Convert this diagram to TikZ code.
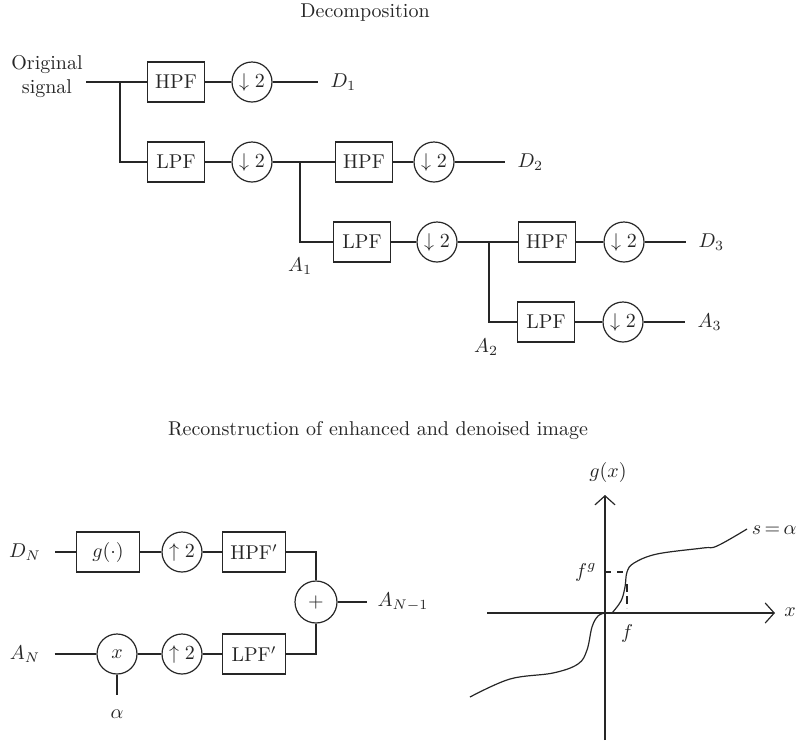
\documentclass[tikz,border=0pt]{standalone}
\usepackage{amsmath,amssymb}
\usepackage{xcolor}
\usepackage{tikz}
\usetikzlibrary{positioning, arrows.meta, calc}

\begin{document}
\begin{tikzpicture}[
    x=0.5pt, y=-0.5pt,
    line width=0.6pt, draw=black!85, text=black!85,
    filt/.style={draw=black!85, line width=0.6pt, minimum width=28.5pt,
                 minimum height=20pt, inner sep=1pt},
    filtr/.style={filt, minimum width=31.5pt},
    samp/.style={draw=black!85, circle, line width=0.6pt,
                 minimum size=20pt, inner sep=0pt},
    lbl/.style={inner sep=1pt},
    wire/.style={line width=0.6pt},
    axis/.style={-{Straight Barb[length=4.5pt, width=10pt]}, line width=0.6pt},
    curve/.style={line width=0.6pt, smooth, tension=0.6},
]

\useasboundingbox (0,0) rectangle (798,740);

% Decomposition
\node[lbl] (title1) at (365,13) {Decomposition};
\node[lbl, align=center] (sig) at (47,77) {Original\\signal};
\coordinate (sigend) at (86,82);
\coordinate (br0) at (120,82);

% level 1
\node[filt] (hpf1) at (176,82) {HPF};
\node[samp] (ds1) at (252,82) {$\downarrow 2$};
\coordinate (d1end) at (318,82);
\node[lbl, right=5pt of d1end] (d1) {$D_1$};
\node[filt] (lpf1) at (176,162) {LPF};
\node[samp] (ds2) at (252,162) {$\downarrow 2$};
\coordinate (br1) at (300,162);

\draw[wire] (sigend) -- (hpf1);
\draw[wire] (hpf1) -- (ds1);
\draw[wire] (ds1) -- (d1end);
\draw[wire] (br0) |- (lpf1);
\draw[wire] (lpf1) -- (ds2);

% level 2
\node[filt] (hpf2) at (364,162) {HPF};
\node[samp] (ds3) at (434,162) {$\downarrow 2$};
\coordinate (d2end) at (505,162);
\node[lbl, right=5pt of d2end] (d2) {$D_2$};
\node[filt] (lpf2) at (362,242) {LPF};
\node[samp] (ds4) at (437,242) {$\downarrow 2$};
\coordinate (br2) at (489,242);
\node[lbl] (a1) at (300,266) {$A_1$};

\draw[wire] (ds2) -- (hpf2);
\draw[wire] (hpf2) -- (ds3);
\draw[wire] (ds3) -- (d2end);
\draw[wire] (br1) |- (lpf2);
\draw[wire] (lpf2) -- (ds4);

% level 3
\node[filt] (hpf3) at (547,242) {HPF};
\node[samp] (ds5) at (624,242) {$\downarrow 2$};
\coordinate (d3end) at (686,242);
\node[lbl, right=5pt of d3end] (d3) {$D_3$};
\node[filt] (lpf3) at (546,322) {LPF};
\node[samp] (ds6) at (623,322) {$\downarrow 2$};
\coordinate (a3end) at (685,322);
\node[lbl, right=5pt of a3end] (a3) {$A_3$};
\node[lbl] (a2) at (486,347) {$A_2$};

\draw[wire] (ds4) -- (hpf3);
\draw[wire] (hpf3) -- (ds5);
\draw[wire] (ds5) -- (d3end);
\draw[wire] (br2) |- (lpf3);
\draw[wire] (lpf3) -- (ds6);
\draw[wire] (ds6) -- (a3end);

% Reconstruction
\node[lbl] (title2) at (378,431) {Reconstruction of enhanced and denoised image};

\node[lbl] (dn) at (25,552) {$D_N$};
\node[filtr] (gbox) at (108,552) {$g(\cdot)$};
\node[samp] (us1) at (182,552) {$\uparrow 2$};
\node[filtr] (hpfp) at (254,552) {HPF$'$};
\coordinate (cnr1) at (316,552);

\node[lbl] (an) at (25,654) {$A_N$};
\node[samp] (mult) at (117,654) {$x$};
\node[samp] (us2) at (182,654) {$\uparrow 2$};
\node[filtr] (lpfp) at (254,654) {LPF$'$};
\coordinate (cnr2) at (316,654);

\node[samp, minimum size=21pt] (plus) at (316,602) {$+$};
\coordinate (outend) at (367,602);
\node[lbl, right=4pt of outend] (anm1) {$A_{N-1}$};
\coordinate (alphaend) at (117,695);
\node[lbl] (alpha) at (117,714) {$\alpha$};

\draw[wire] (dn.east) ++(6pt,0) coordinate (dnstart) -- (gbox);
\draw[wire] (gbox) -- (us1);
\draw[wire] (us1) -- (hpfp);
\draw[wire] (hpfp) -- (cnr1) -- (plus);
\draw[wire] (an.east) ++(6pt,0) coordinate (anstart) -- (mult);
\draw[wire] (mult) -- (us2);
\draw[wire] (us2) -- (lpfp);
\draw[wire] (lpfp) -- (cnr2) -- (plus);
\draw[wire] (plus) -- (outend);
\draw[wire] (mult) -- (alphaend);

% Mapping curve g(x)
\coordinate (O) at (605,613);
\coordinate (xl) at (487,613);
\coordinate (xr) at (775,613);
\coordinate (yb) at (605,740);
\coordinate (yt) at (605,495);
\draw[axis] (xl) -- (xr);
\draw[axis] (yb) -- (yt);
\node[lbl] (xlbl) at (790,612) {$x$};
\node[lbl] (glbl) at (608,472) {$g(x)$};

\draw[curve] plot coordinates {(470,697) (510,679) (553,673) (578,664)
  (587,650) (592,627) (598,616) (605,613)};
\draw[curve] plot coordinates {(612,613) (621,601) (625,587) (627,572)
  (634,563) (657,554) (703,548) (717,546) (747,529)};

\coordinate (fgy) at (605,572);
\coordinate (fgx) at (627,572);
\coordinate (fx) at (627,584);
\coordinate (fx0) at (627,608);
\draw[wire, dashed] (fgy) -- (fgx);
\draw[wire, dash pattern=on 4pt off 2pt] (fx) -- (fx0);
\node[lbl, left=3pt of fgy] (fglbl) {$f^g$};
\node[lbl] (flbl) at (627,633) {$f$};
\node[anchor=east, inner sep=0pt] (slbl) at (797,530) {$s\,{=}\,\alpha$};

\end{tikzpicture}
\end{document}
